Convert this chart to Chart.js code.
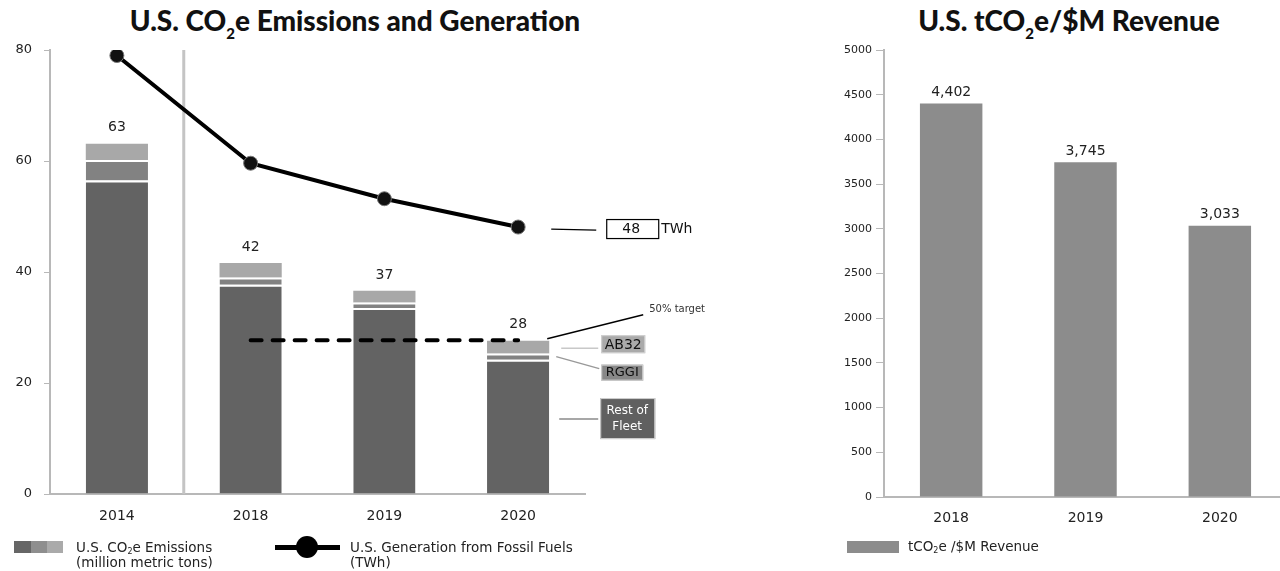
<!DOCTYPE html>
<html>
<head>
<meta charset="utf-8">
<script src="https://cdn.jsdelivr.net/npm/chart.js@4/dist/chart.umd.min.js"></script>
<style>
html, body { margin: 0; padding: 0; width: 1280px; height: 571px; overflow: hidden; background: #fff; font-family: "DejaVu Sans", Verdana, sans-serif; }
.title { position: absolute; top: 3px; font-family: Lato, "Open Sans", sans-serif; font-weight: 900; font-size: 28px; color: #111; white-space: nowrap; transform: translateX(-50%); }
.title sub { font-size: 15px; vertical-align: -8px; line-height: 0; }
#emissions { position: absolute; left: 0; top: 0; }
#revenue { position: absolute; left: 820px; top: 0; }
.leg { position: absolute; font-size: 13.5px; color: #222; line-height: 15px; white-space: nowrap; }
.leg sub { font-size: 8px; vertical-align: -2px; line-height: 0; }
.sw { position: absolute; height: 12px; }
</style>
</head>
<body>
<div class="title" style="left:355px">U.S. CO<sub>2</sub>e Emissions and Generation</div>
<div class="title" style="left:1069px">U.S. tCO<sub>2</sub>e/$M Revenue</div>

<canvas id="emissions" width="720" height="571"></canvas>
<canvas id="revenue" width="480" height="571"></canvas>

<!-- legends -->
<div class="sw" style="left:14px;top:541px;width:17px;background:#666"></div>
<div class="sw" style="left:31px;top:541px;width:16px;background:#8e8e8e"></div>
<div class="sw" style="left:47px;top:541px;width:16px;background:#aaa"></div>
<div class="leg" style="left:76px;top:540px">U.S. CO<sub>2</sub>e Emissions<br>(million metric tons)</div>
<div class="sw" style="left:275px;top:545px;width:65px;height:5px;background:#000"></div>
<div class="sw" style="left:296px;top:536px;width:22px;height:22px;border-radius:50%;background:#000"></div>
<div class="leg" style="left:350px;top:540px">U.S. Generation from Fossil Fuels<br>(TWh)</div>
<div class="sw" style="left:847px;top:541px;width:52px;background:#8c8c8c"></div>
<div class="leg" style="left:908px;top:539px">tCO<sub>2</sub>e /$M Revenue</div>

<script>
// emissions chart data (million metric tons) and generation (TWh)
const years = ['2014', '2018', '2019', '2020'];
const restOfFleet = [56.5, 37.7, 33.5, 24.2];
const rggi = [3.7, 1.3, 1.0, 1.1];
const ab32 = [2.9, 2.6, 2.1, 2.3];
const fossilGeneration = [79, 59.6, 53.2, 48.1];
const target = [null, 27.7, 27.7, 27.7];

// revenue intensity chart
const revenueYears = ['2018', '2019', '2020'];
const intensity = [4402, 3745, 3033];

const axisGray = '#b8b8b8';

function box(ctx, x, y, w, h, fill) {
    ctx.fillStyle = fill;
    ctx.fillRect(x, y, w, h);
    ctx.strokeStyle = '#d4d4d4';
    ctx.lineWidth = 1;
    ctx.strokeRect(x + 0.5, y + 0.5, w - 1, h - 1);
}

function line(ctx, x1, y1, x2, y2, color, width) {
    ctx.strokeStyle = color;
    ctx.lineWidth = width;
    ctx.beginPath();
    ctx.moveTo(x1, y1);
    ctx.lineTo(x2, y2);
    ctx.stroke();
}

const emissionsExtras = {
    id: 'emissionsExtras',
    beforeDatasetsDraw(chart) {
        // divider between 2014 and the later years
        const { ctx, chartArea, scales: { x } } = chart;
        const sx = (x.getPixelForValue(0) + x.getPixelForValue(1)) / 2;
        ctx.save();
        line(ctx, sx, chartArea.top, sx, chartArea.bottom, '#c4c4c4', 3);
        ctx.restore();
    },
    afterDatasetsDraw(chart) {
        const { ctx, scales: { y } } = chart;
        const tops = chart.getDatasetMeta(2).data;
        const rggiBars = chart.getDatasetMeta(1).data;
        const points = chart.getDatasetMeta(3).data;
        ctx.save();

        // totals above each stack
        ctx.font = '14px "DejaVu Sans"';
        ctx.fillStyle = '#222';
        ctx.textAlign = 'center';
        ctx.textBaseline = 'middle';
        years.forEach((yr, i) => {
            const total = restOfFleet[i] + rggi[i] + ab32[i];
            ctx.fillText(Math.round(total), tops[i].x, tops[i].y - 16);
        });

        // callouts on the last year
        const last = years.length - 1;
        const bar = tops[last];
        const right = bar.x + bar.width / 2;
        const pt = points[last];

        // TWh callout
        line(ctx, right + 2, pt.y + 2, right + 47, pt.y + 3, '#000', 1.2);
        ctx.strokeStyle = '#000';
        ctx.lineWidth = 1.2;
        ctx.strokeRect(right + 57.5, pt.y - 7.5, 52, 19);
        ctx.fillStyle = '#111';
        ctx.textAlign = 'center';
        ctx.fillText(Math.round(fossilGeneration[last]), right + 82, pt.y + 2);
        ctx.textAlign = 'left';
        ctx.fillText('TWh', right + 112, pt.y + 2);

        // 50% target
        line(ctx, right - 2, bar.y - 2, right + 94, bar.y - 26, '#000', 1.5);
        ctx.font = '10px "DejaVu Sans"';
        ctx.fillStyle = '#333';
        ctx.fillText('50% target', right + 100, bar.y - 31);

        // AB32
        const abMid = (bar.y + bar.base) / 2;
        line(ctx, right + 12, abMid + 1, right + 49, abMid + 1, '#c8c8c8', 1.5);
        box(ctx, right + 52, abMid - 12, 44, 18, '#aaa');
        ctx.font = '14px "DejaVu Sans"';
        ctx.fillStyle = '#111';
        ctx.textAlign = 'center';
        ctx.fillText('AB32', right + 74, abMid - 2);

        // RGGI
        const rg = rggiBars[last];
        const rgMid = (rg.y + rg.base) / 2;
        line(ctx, right + 7, rgMid, right + 50, rgMid + 12, '#999', 1.5);
        box(ctx, right + 52, rgMid + 8, 42, 16, '#888');
        ctx.font = '13px "DejaVu Sans"';
        ctx.fillStyle = '#111';
        ctx.fillText('RGGI', right + 73, rgMid + 16);

        // Rest of Fleet
        const rfY = y.getPixelForValue(13.5);
        line(ctx, right + 10, rfY, right + 49, rfY, '#8a8a8a', 1.5);
        box(ctx, right + 51, rfY - 21, 55, 41, '#606060');
        ctx.font = '12px "DejaVu Sans"';
        ctx.fillStyle = '#fff';
        ctx.fillText('Rest of', right + 78, rfY - 8);
        ctx.fillText('Fleet', right + 78, rfY + 8);

        ctx.restore();
    }
};

new Chart(document.getElementById('emissions'), {
    type: 'bar',
    data: {
        labels: years,
        datasets: [
            { label: 'Rest of Fleet', data: restOfFleet, backgroundColor: '#636363', borderColor: '#fff', borderWidth: { top: 2 }, borderSkipped: 'start', stack: 'em', order: 1, barPercentage: 0.93, categoryPercentage: 0.5 },
            { label: 'RGGI', data: rggi, backgroundColor: '#828282', borderColor: '#fff', borderWidth: { top: 2 }, borderSkipped: 'start', stack: 'em', order: 1, barPercentage: 0.93, categoryPercentage: 0.5 },
            { label: 'AB32', data: ab32, backgroundColor: '#a8a8a8', borderWidth: 0, stack: 'em', order: 1, barPercentage: 0.93, categoryPercentage: 0.5 },
            { type: 'line', label: 'U.S. Generation from Fossil Fuels (TWh)', data: fossilGeneration, stack: 'gen', order: 0, borderColor: '#000', borderWidth: 4, tension: 0, pointRadius: 7, pointBackgroundColor: '#111', pointBorderColor: '#777', pointBorderWidth: 1 },
            { type: 'line', label: '50% target', data: target, stack: 'target', order: 0, borderColor: '#000', borderWidth: 4, borderDash: [11, 11], borderCapStyle: 'round', pointRadius: 0 }
        ]
    },
    options: {
        responsive: false,
        animation: false,
        events: [],
        layout: { padding: { top: 50, right: 135, left: 0, bottom: 0 } },
        plugins: { legend: { display: false }, tooltip: { enabled: false } },
        scales: {
            x: {
                grid: { display: false, drawTicks: false },
                border: { color: axisGray, width: 2 },
                ticks: { color: '#222', font: { family: 'DejaVu Sans', size: 14 }, padding: 14 },
                afterFit(scale) { scale.height = 77; }
            },
            y: {
                stacked: true,
                min: 0, max: 80,
                grid: { drawOnChartArea: false, drawTicks: true, tickLength: 6, color: axisGray },
                border: { color: axisGray, width: 2 },
                ticks: { stepSize: 20, color: '#222', font: { family: 'DejaVu Sans', size: 13 }, padding: 12 },
                afterFit(scale) { scale.width = 50; }
            }
        }
    },
    plugins: [emissionsExtras]
});

const revenueLabels = {
    id: 'revenueLabels',
    afterDatasetsDraw(chart) {
        const ctx = chart.ctx;
        ctx.save();
        ctx.font = '14px "DejaVu Sans"';
        ctx.fillStyle = '#222';
        ctx.textAlign = 'center';
        ctx.textBaseline = 'middle';
        chart.getDatasetMeta(0).data.forEach((bar, i) => {
            ctx.fillText(intensity[i].toLocaleString('en-US'), bar.x, bar.y - 11);
        });
        ctx.restore();
    }
};

new Chart(document.getElementById('revenue'), {
    type: 'bar',
    data: {
        labels: revenueYears,
        datasets: [{ label: 'tCO2e /$M Revenue', data: intensity, backgroundColor: '#8c8c8c', barPercentage: 0.93, categoryPercentage: 0.5 }]
    },
    options: {
        responsive: false,
        animation: false,
        events: [],
        layout: { padding: { top: 50, right: 13, left: 0, bottom: 0 } },
        plugins: { legend: { display: false }, tooltip: { enabled: false } },
        scales: {
            x: {
                grid: { display: false, drawTicks: false },
                border: { color: axisGray, width: 2 },
                ticks: { color: '#222', font: { family: 'DejaVu Sans', size: 14 }, padding: 13 },
                afterFit(scale) { scale.height = 74; }
            },
            y: {
                min: 0, max: 5000,
                grid: { drawOnChartArea: false, drawTicks: true, tickLength: 8, color: axisGray },
                border: { color: axisGray, width: 2 },
                ticks: { stepSize: 500, color: '#222', font: { family: 'DejaVu Sans', size: 11 }, padding: 4, callback: (v) => String(v) },
                afterFit(scale) { scale.width = 64; }
            }
        }
    },
    plugins: [revenueLabels]
});
</script>
</body>
</html>
